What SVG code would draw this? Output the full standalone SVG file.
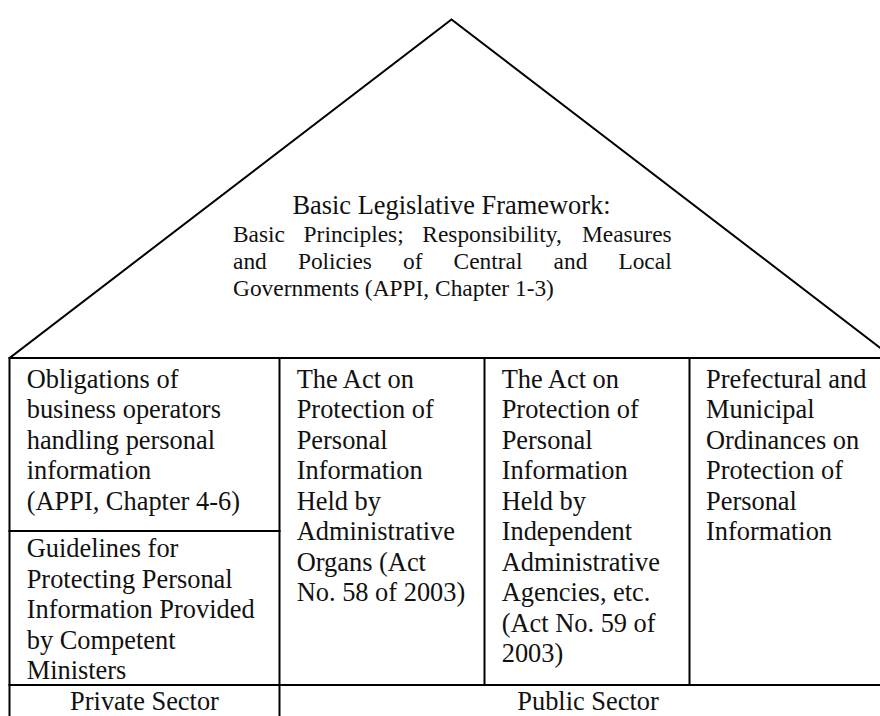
<svg xmlns="http://www.w3.org/2000/svg" width="880" height="716" viewBox="0 0 880 716">
  <style>
    .ln { stroke: #000; stroke-width: 2; fill: none; stroke-linecap: square; }
    .t { font-family: "Liberation Serif", "Times New Roman", serif; font-size: 26.4px; fill: #111; }
    .s { font-family: "Liberation Serif", "Times New Roman", serif; font-size: 23.4px; fill: #111; }
  </style>
  <rect x="0" y="0" width="880" height="716" fill="#fff"/>
  <g id="frame">
    <polyline class="ln" points="9.5,358 451.5,19.5 893.5,358"/>
    <rect class="ln" x="9.5" y="358" width="890" height="380"/>
    <line class="ln" x1="279.5" y1="358" x2="279.5" y2="720"/>
    <line class="ln" x1="484.5" y1="358" x2="484.5" y2="685"/>
    <line class="ln" x1="689.5" y1="358" x2="689.5" y2="685"/>
    <line class="ln" x1="9.5" y1="531" x2="279.5" y2="531"/>
    <line class="ln" x1="9.5" y1="685" x2="899.5" y2="685"/>
  </g>
  <g id="roof">
    <text class="t" x="451.5" y="214" text-anchor="middle">Basic Legislative Framework:</text>
    <text class="s" y="241.5"><tspan x="233">Basic</tspan><tspan x="303.6">Principles;</tspan><tspan x="422.3">Responsibility,</tspan><tspan x="582">Measures</tspan></text>
    <text class="s" y="268.5"><tspan x="233">and</tspan><tspan x="297.9">Policies</tspan><tspan x="403">of</tspan><tspan x="453.6">Central</tspan><tspan x="553.6">and</tspan><tspan x="618.4">Local</tspan></text>
    <text class="s" x="233" y="295.5">Governments (APPI, Chapter 1-3)</text>
  </g>
  <g id="private-obligations">
    <text class="t"><tspan x="26.7" y="387.5">Obligations of</tspan><tspan x="26.7" y="418">business operators</tspan><tspan x="26.7" y="448.5">handling personal</tspan><tspan x="26.7" y="479">information</tspan><tspan x="26.7" y="509.5">(APPI, Chapter 4-6)</tspan></text>
  </g>
  <g id="private-guidelines">
    <text class="t"><tspan x="26.7" y="557">Guidelines for</tspan><tspan x="26.7" y="587.5">Protecting Personal</tspan><tspan x="26.7" y="618">Information Provided</tspan><tspan x="26.7" y="648.5">by Competent</tspan><tspan x="26.7" y="679">Ministers</tspan></text>
  </g>
  <g id="act-administrative-organs">
    <text class="t"><tspan x="296.7" y="387.5">The Act on</tspan><tspan x="296.7" y="418">Protection of</tspan><tspan x="296.7" y="448.5">Personal</tspan><tspan x="296.7" y="479">Information</tspan><tspan x="296.7" y="509.5">Held by</tspan><tspan x="296.7" y="540">Administrative</tspan><tspan x="296.7" y="570.5">Organs (Act</tspan><tspan x="296.7" y="601">No. 58 of 2003)</tspan></text>
  </g>
  <g id="act-independent-agencies">
    <text class="t"><tspan x="501.7" y="387.5">The Act on</tspan><tspan x="501.7" y="418">Protection of</tspan><tspan x="501.7" y="448.5">Personal</tspan><tspan x="501.7" y="479">Information</tspan><tspan x="501.7" y="509.5">Held by</tspan><tspan x="501.7" y="540">Independent</tspan><tspan x="501.7" y="570.5">Administrative</tspan><tspan x="501.7" y="601">Agencies, etc.</tspan><tspan x="501.7" y="631.5">(Act No. 59 of</tspan><tspan x="501.7" y="662">2003)</tspan></text>
  </g>
  <g id="local-ordinances">
    <text class="t"><tspan x="706" y="387.5">Prefectural and</tspan><tspan x="706" y="418">Municipal</tspan><tspan x="706" y="448.5">Ordinances on</tspan><tspan x="706" y="479">Protection of</tspan><tspan x="706" y="509.5">Personal</tspan><tspan x="706" y="540">Information</tspan></text>
  </g>
  <g id="private-sector">
    <text class="t" x="144.5" y="710" text-anchor="middle">Private Sector</text>
  </g>
  <g id="public-sector">
    <text class="t" x="588" y="710" text-anchor="middle">Public Sector</text>
  </g>
</svg>
